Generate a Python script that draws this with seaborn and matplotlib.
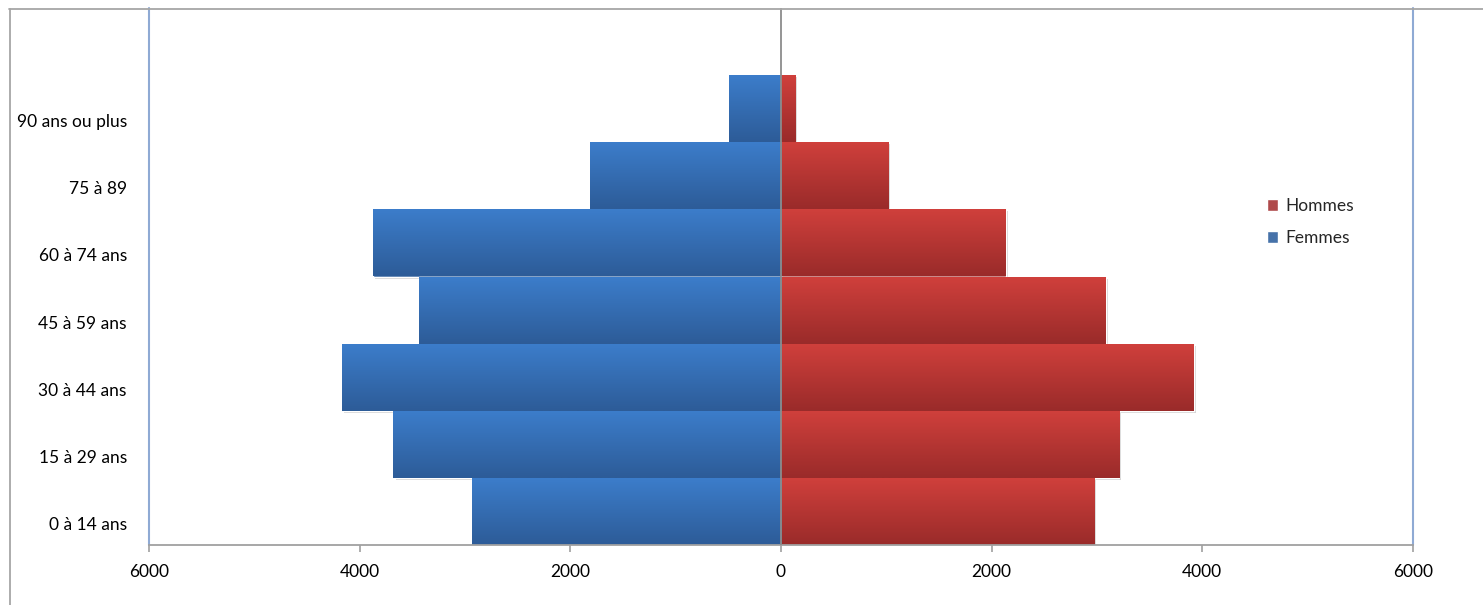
import numpy as np
import pandas as pd
import matplotlib
matplotlib.use("Agg")
import matplotlib.pyplot as plt
from matplotlib.colors import LinearSegmentedColormap
from matplotlib.lines import Line2D
from matplotlib.transforms import ScaledTranslation
import matplotlib.patheffects as pe
import seaborn as sns

# Population by age group and sex
ages = ["90 ans ou plus", "75 à 89", "60 à 74 ans", "45 à 59 ans",
        "30 à 44 ans", "15 à 29 ans", "0 à 14 ans"]
hommes = [133, 1019, 2136, 3082, 3918, 3209, 2972]
femmes = [489, 1817, 3878, 3441, 4169, 3679, 2934]
series = ["Hommes", "Femmes"]
x_ticks = [-6000, -4000, -2000, 0, 2000, 4000, 6000]

sns.set_theme(style="white")
plt.rcParams["font.family"] = ["Lato", "DejaVu Sans"]

df = pd.DataFrame({
    "age": ages * 2,
    "sexe": ["Hommes"] * len(ages) + ["Femmes"] * len(ages),
    "valeur": hommes + [-v for v in femmes],
})

colors = {"Hommes": "#C0393A", "Femmes": "#3570B9"}
grads = {"Hommes": ("#D0403C", "#9A2B2A"), "Femmes": ("#3C7DCB", "#2D5C98")}

fig = plt.figure(figsize=(14.83, 6.05), dpi=100)
W, H = 1483, 605
ax = fig.add_axes([149 / W, (H - 545) / H, (1413 - 149) / W, (545 - 8) / H])

sns.barplot(data=df, y="age", x="valeur", hue="sexe", order=ages,
            hue_order=series, palette=colors, dodge=False, width=1.0,
            orient="h", ax=ax, zorder=2)

# vertical gradient fill on each bar, light on top and dark at the bottom
grad = np.linspace(0, 1, 64).reshape(-1, 1)
for container, name in zip(ax.containers, series):
    cmap = LinearSegmentedColormap.from_list(name, grads[name])
    for patch in container:
        x0, y0 = patch.get_x(), patch.get_y()
        w, h = patch.get_width(), patch.get_height()
        patch.set_path_effects([
            pe.SimplePatchShadow(offset=(1.5, -1.5), shadow_rgbFace="k", alpha=0.18),
            pe.Normal()])
        im = ax.imshow(grad, extent=(x0, x0 + w, y0 + h, y0), origin="upper",
                       cmap=cmap, aspect="auto", interpolation="bilinear", zorder=2.5)
        im.set_clip_path(patch)

ax.set_xlim(-6000, 6000)
ax.set_ylim(len(ages) - 0.5, -1.5)

# boundary lines and the centre axis
for xv in (-6000, 6000):
    ax.axvline(xv, color="#8FAAD4", lw=1.5, zorder=1, clip_on=False)
ax.axvline(0, color="#8C8C8C", lw=1.3, zorder=4)

ax.set_xticks(x_ticks)
ax.set_xticklabels([str(abs(v)) for v in x_ticks])
ax.set_xlabel("")
ax.set_ylabel("")
ax.tick_params(axis="x", bottom=True, length=5, width=1.2, color="#A0A0A0",
               pad=9, labelsize=12.5, labelcolor="#000000")
ax.tick_params(axis="y", left=False, length=0, pad=16, labelsize=12.5,
               labelcolor="#000000")
# category labels sit slightly below the middle of their band
offset = ScaledTranslation(0, -12 / 100, fig.dpi_scale_trans)
for lab in ax.get_yticklabels():
    lab.set_transform(lab.get_transform() + offset)
for s in ("top", "left", "right"):
    ax.spines[s].set_visible(False)
ax.spines["bottom"].set_color("#A0A0A0")
ax.spines["bottom"].set_linewidth(1.3)
ax.grid(False)

handles, labels = ax.get_legend_handles_labels()
ax.legend(handles, labels, loc="center left",
          bbox_to_anchor=(1251 / W, (H - 222) / H), bbox_transform=fig.transFigure,
          frameon=False, fontsize=12.5, handlelength=0.65, handleheight=0.65,
          handletextpad=0.45, labelspacing=0.9)

# outer chart frame
fig.add_artist(Line2D([9.5 / W, 9.5 / W], [0, (H - 9) / H], color="#A6A6A6", lw=1.3))
fig.add_artist(Line2D([9 / W, 1], [(H - 9) / H, (H - 9) / H], color="#A6A6A6", lw=1.3))

fig.savefig("out.png", dpi=100, facecolor="white")
